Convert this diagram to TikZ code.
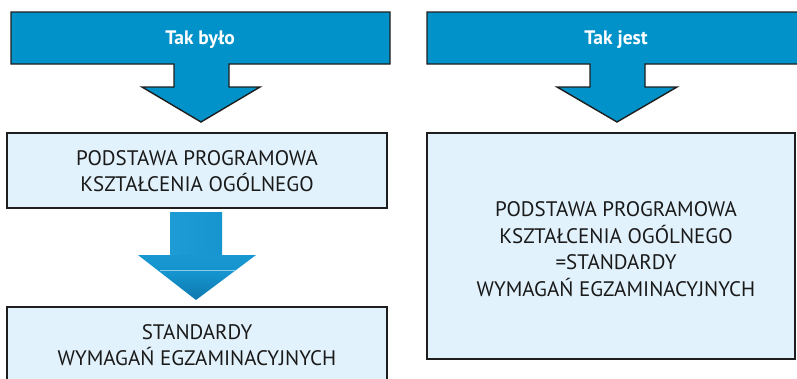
\documentclass[tikz,border=0pt]{standalone}
\usepackage{fontspec}
\setmainfont{PT Sans}
\definecolor{banner}{HTML}{0092C8}
\definecolor{boxfill}{HTML}{E1F2FC}
\definecolor{edge}{HTML}{1E1E1E}
\definecolor{ink}{HTML}{1A1A1A}
\definecolor{bevelLight}{rgb}{0.20,0.66,0.86}
\definecolor{bevelA}{rgb}{0.13,0.62,0.84}
\definecolor{bevelB}{rgb}{0.08,0.58,0.81}
\definecolor{bevelC}{rgb}{0.05,0.45,0.66}
\definecolor{bevelDark}{rgb}{0.03,0.32,0.48}
\definecolor{tipDark}{rgb}{0.02,0.30,0.45}
\definecolor{headMid}{rgb}{0.10,0.60,0.82}
\definecolor{headTop}{rgb}{0.16,0.65,0.86}
% bevel-like shadings for the arrow between the left boxes
\pgfdeclarehorizontalshading{stemshade}{100bp}{
  color(0bp)=(bevelLight); color(10bp)=(bevelA);
  color(80bp)=(bevelB); color(92bp)=(bevelC);
  color(100bp)=(bevelDark)}
\pgfdeclareverticalshading{headshade}{100bp}{
  color(0bp)=(tipDark); color(20bp)=(bevelC);
  color(55bp)=(bevelB); color(85bp)=(headMid);
  color(100bp)=(headTop)}
\tikzset{
  bannershape/.style={fill=banner, draw=edge, line width=1.4pt, line join=miter},
  infobox/.style={fill=boxfill, draw=edge, line width=1.2pt},
  boxtext/.style={text=ink, font=\fontsize{21}{26.5}\selectfont, align=center, inner sep=0pt},
  headtext/.style={text=white, font=\bfseries\fontsize{19.5}{22}\selectfont, inner sep=0pt},
}
\begin{document}
\begin{tikzpicture}[x=1pt, y=-1pt]
  \useasboundingbox (0,0) rectangle (797,378);
  % left banner with its downward arrow
  \draw[bannershape] (11,12) -- (390,12) -- (390,64) -- (229,64) -- (229,87) -- (260,87)
    -- (201,122) -- (142,87) -- (174,87) -- (174,64) -- (11,64) -- cycle;
  \node[headtext] (wasTitle) at (200,40) {Tak było};
  % right banner with its downward arrow
  \draw[bannershape] (427,12) -- (800,12) -- (800,64) -- (645,64) -- (645,87) -- (677,87)
    -- (617,122) -- (557,87) -- (590,87) -- (590,64) -- (427,64) -- cycle;
  \node[headtext] (isTitle) at (616,40) {Tak jest};
  % left column boxes
  \draw[infobox] (7,133) rectangle (387,208);
  \node[boxtext] (core) at (197,171) {PODSTAWA PROGRAMOWA\\KSZTAŁCENIA OGÓLNEGO};
  \draw[infobox] (7,307) rectangle (387,390);
  \node[boxtext] (std) at (197,345) {STANDARDY\\WYMAGAŃ EGZAMINACYJNYCH};
  % shaded arrow between the left boxes
  \shade[shading=stemshade] (170,212) rectangle (222,256);
  \shade[shading=headshade] (138,255) -- (256,255) -- (196,300) -- cycle;
  \draw[white!55!banner, line width=0.5pt] (160,270) -- (235,270);
  % right column box
  \draw[infobox] (427,133) rectangle (795,359);
  \node[boxtext] (merged) at (616,249) {PODSTAWA PROGRAMOWA\\KSZTAŁCENIA OGÓLNEGO\\=STANDARDY\\WYMAGAŃ EGZAMINACYJNYCH};
\end{tikzpicture}
\end{document}
